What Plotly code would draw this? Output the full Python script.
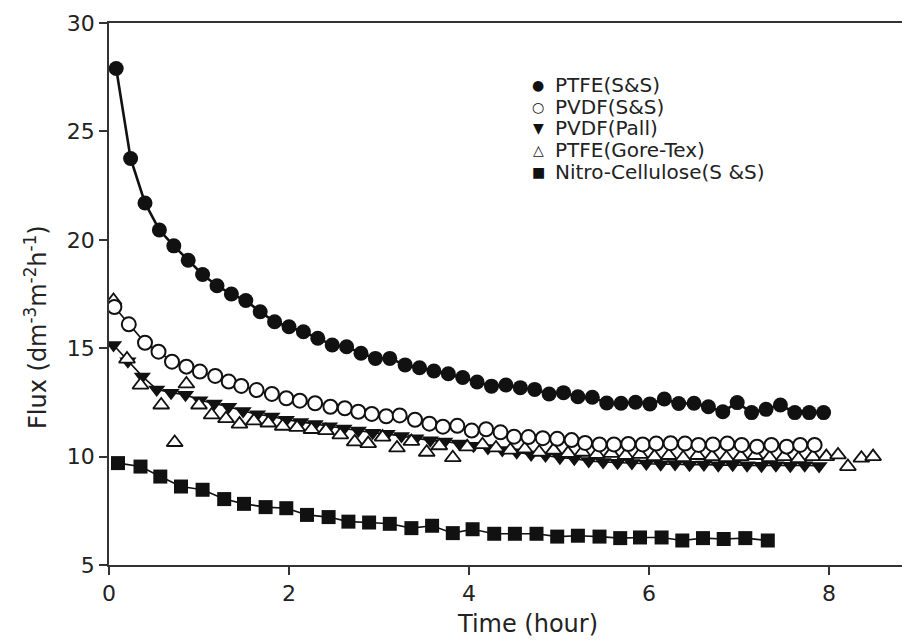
import plotly.graph_objects as go

series_names = ["PTFE(S&S)", "PVDF(S&S)", "PVDF(Pall)", "PTFE(Gore-Tex)", "Nitro-Cellulose(S &S)"]
legend_glyphs = ["\u25CF", "\u25CB", "\u25BC", "\u25B3", "\u25A0"]

ptfe_ss_time = [0.08, 0.24, 0.40, 0.56, 0.72, 0.88, 1.04, 1.20, 1.36, 1.52,
                1.68, 1.84, 2.00, 2.16, 2.32, 2.48, 2.64, 2.80, 2.96, 3.12,
                3.29, 3.45, 3.61, 3.77, 3.93, 4.09, 4.25, 4.41, 4.57, 4.73,
                4.89, 5.05, 5.21, 5.37, 5.53, 5.69, 5.85, 6.01, 6.17, 6.33,
                6.50, 6.66, 6.82, 6.98, 7.14, 7.30, 7.46, 7.62, 7.78, 7.94]
ptfe_ss_flux = [27.9, 23.75, 21.7, 20.45, 19.72, 19.06, 18.4, 17.88, 17.5, 17.2,
                16.68, 16.22, 15.99, 15.76, 15.46, 15.15, 15.07, 14.77, 14.53, 14.53,
                14.23, 14.1, 13.95, 13.82, 13.65, 13.44, 13.25, 13.3, 13.18, 13.1,
                12.89, 12.95, 12.76, 12.74, 12.47, 12.46, 12.51, 12.43, 12.66, 12.45,
                12.46, 12.3, 12.07, 12.49, 12.03, 12.18, 12.38, 12.03, 12.03, 12.03]

pvdf_ss_time = [0.06, 0.22, 0.40, 0.55, 0.70, 0.86, 1.01, 1.18, 1.33, 1.47,
                1.64, 1.81, 1.97, 2.12, 2.29, 2.46, 2.62, 2.77, 2.92, 3.08,
                3.23, 3.40, 3.56, 3.71, 3.87, 4.03, 4.19, 4.35, 4.50, 4.66,
                4.82, 4.98, 5.14, 5.29, 5.45, 5.61, 5.77, 5.93, 6.08, 6.24,
                6.40, 6.55, 6.71, 6.87, 7.03, 7.20, 7.36, 7.53, 7.68, 7.84]
pvdf_ss_flux = [16.9, 16.1, 15.25, 14.84, 14.38, 14.15, 13.92, 13.72, 13.46, 13.26,
                13.07, 12.89, 12.69, 12.58, 12.46, 12.3, 12.23, 12.07, 11.97, 11.86,
                11.9, 11.7, 11.52, 11.38, 11.42, 11.2, 11.26, 11.12, 10.92, 10.9,
                10.85, 10.82, 10.76, 10.63, 10.56, 10.56, 10.58, 10.56, 10.6, 10.62,
                10.6, 10.54, 10.56, 10.6, 10.54, 10.46, 10.54, 10.46, 10.54, 10.54]

pvdf_pall_time = [0.05, 0.21, 0.37, 0.53, 0.69, 0.85, 1.01, 1.17, 1.33, 1.49,
                  1.65, 1.81, 1.97, 2.13, 2.29, 2.45, 2.61, 2.77, 2.93, 3.09,
                  3.25, 3.41, 3.57, 3.73, 3.89, 4.05, 4.21, 4.37, 4.53, 4.69,
                  4.85, 5.01, 5.17, 5.33, 5.49, 5.65, 5.81, 5.97, 6.13, 6.29,
                  6.45, 6.61, 6.77, 6.93, 7.09, 7.25, 7.41, 7.57, 7.73, 7.89]
pvdf_pall_flux = [15.15, 14.4, 13.7, 13.1, 12.95, 12.85, 12.6, 12.45, 12.3, 12.1,
                  11.95, 11.85, 11.7, 11.6, 11.5, 11.4, 11.3, 11.2, 11.1, 11.05,
                  10.95, 10.85, 10.75, 10.7, 10.6, 10.5, 10.4, 10.3, 10.2, 10.1,
                  10.05, 9.95, 9.9, 9.8, 9.75, 9.72, 9.7, 9.68, 9.65, 9.66,
                  9.62, 9.64, 9.6, 9.62, 9.6, 9.58, 9.6, 9.58, 9.6, 9.57]

goretex_time = [0.05, 0.20, 0.35, 0.58, 0.73, 0.86, 1.00, 1.14, 1.30, 1.45,
                1.61, 1.77, 1.93, 2.09, 2.25, 2.41, 2.57, 2.73, 2.88, 3.04,
                3.20, 3.36, 3.53, 3.67, 3.82, 3.98, 4.15, 4.30, 4.46, 4.62,
                4.78, 4.94, 5.10, 5.26, 5.42, 5.58, 5.74, 5.90, 6.06, 6.22,
                6.38, 6.54, 6.70, 6.86, 7.02, 7.18, 7.34, 7.50, 7.66, 7.82,
                7.97, 8.10, 8.21, 8.36, 8.49]
goretex_flux = [17.2, 14.5, 13.3, 12.38, 10.65, 13.35, 12.38, 11.92, 11.75, 11.5,
                11.65, 11.55, 11.4, 11.35, 11.25, 11.2, 11.0, 10.68, 10.6, 10.9,
                10.4, 10.7, 10.2, 10.5, 9.95, 10.45, 10.55, 10.4, 10.3, 10.35,
                10.2, 10.3, 10.15, 10.2, 10.1, 10.15, 10.05, 10.1, 10.0, 10.05,
                9.95, 10.05, 10.0, 9.95, 10.0, 10.05, 9.95, 10.0, 9.9, 10.0,
                10.0, 10.08, 9.54, 9.93, 10.0]

nitro_time = [0.10, 0.35, 0.57, 0.80, 1.04, 1.28, 1.50, 1.74, 1.97, 2.20,
              2.44, 2.66, 2.89, 3.12, 3.36, 3.59, 3.82, 4.04, 4.28, 4.51,
              4.75, 4.98, 5.21, 5.45, 5.68, 5.90, 6.14, 6.37, 6.60, 6.83,
              7.07, 7.32]
nitro_flux = [9.7, 9.54, 9.08, 8.62, 8.47, 8.04, 7.82, 7.67, 7.62, 7.31,
              7.21, 7.0, 6.96, 6.9, 6.7, 6.81, 6.47, 6.65, 6.44, 6.44,
              6.44, 6.31, 6.35, 6.31, 6.24, 6.27, 6.27, 6.13, 6.24, 6.2,
              6.24, 6.13]

FONT = "DejaVu Sans"
INK = "#111111"
TXT = "#222222"

fig = go.Figure()

# nitro first so the upper curves sit on top of it
fig.add_trace(go.Scatter(x=nitro_time, y=nitro_flux, mode="lines+markers", name=series_names[4],
                         line=dict(color=INK, width=1.6),
                         marker=dict(symbol="square", size=14, color=INK)))
fig.add_trace(go.Scatter(x=pvdf_pall_time, y=pvdf_pall_flux, mode="lines+markers", name=series_names[2],
                         line=dict(color=INK, width=1.6),
                         marker=dict(symbol="triangle-down", size=15, color=INK)))
# gore-tex points are plotted without a connecting line
fig.add_trace(go.Scatter(x=goretex_time, y=goretex_flux, mode="markers", name=series_names[3],
                         marker=dict(symbol="triangle-up", size=14, color="white",
                                     line=dict(color=INK, width=1.8))))
fig.add_trace(go.Scatter(x=pvdf_ss_time, y=pvdf_ss_flux, mode="lines+markers", name=series_names[1],
                         line=dict(color=INK, width=1.6),
                         marker=dict(symbol="circle", size=14, color="white",
                                     line=dict(color=INK, width=2))))
fig.add_trace(go.Scatter(x=ptfe_ss_time, y=ptfe_ss_flux, mode="lines+markers", name=series_names[0],
                         line=dict(color=INK, width=2.6),
                         marker=dict(symbol="circle", size=15, color=INK)))

# the page body has an 8px margin, so the figure is shrunk by that much
W, H, PAGE_OFF = 910 - 8, 644 - 8, 8
plot_top, plot_bottom, plot_left, plot_w = 23, 565, 109, 801   # page pixels
plot_h = plot_bottom - plot_top


def px_x(px):
    return (px - plot_left) / plot_w


def px_y(py):
    return (plot_bottom - py) / plot_h


# legend drawn as text rows so the row spacing matches the original
legend_rows_px = [85, 107, 128, 150, 172]
annotations = []
for glyph, name, py in zip(legend_glyphs, series_names, legend_rows_px):
    annotations.append(dict(x=px_x(538), y=px_y(py), xref="paper", yref="paper",
                            text=glyph, showarrow=False, xanchor="center", yanchor="middle",
                            font=dict(family="DejaVu Sans", size=14, color=INK)))
    annotations.append(dict(x=px_x(553), y=px_y(py), xref="paper", yref="paper",
                            text=name, showarrow=False, xanchor="left", yanchor="middle",
                            font=dict(family=FONT, size=20, color=TXT)))

annotations.append(dict(x=px_x(527), y=px_y(624), xref="paper", yref="paper",
                        text="Time (hour)", showarrow=False, xanchor="center", yanchor="middle",
                        font=dict(family=FONT, size=24, color=TXT)))
annotations.append(dict(x=px_x(36), y=px_y(327), xref="paper", yref="paper",
                        text="Flux (dm<sup>-3</sup>m<sup>-2</sup>h<sup>-1</sup>)",
                        showarrow=False, textangle=-90, xanchor="center", yanchor="middle",
                        font=dict(family=FONT, size=24, color=TXT)))

axis_style = dict(showline=True, linecolor="#333333", linewidth=1.6, ticks="outside",
                  ticklen=8, tickwidth=1.5, tickcolor="#333333", showgrid=False, zeroline=False,
                  tickfont=dict(family=FONT, size=22, color=TXT))

fig.update_layout(
    width=W, height=H,
    margin=dict(l=plot_left - PAGE_OFF, r=0, t=plot_top - PAGE_OFF, b=H - (plot_bottom - PAGE_OFF)),
    paper_bgcolor="white", plot_bgcolor="white",
    showlegend=False,
    annotations=annotations,
    xaxis=dict(range=[0, 8.9], dtick=2, tick0=0, mirror=True, **axis_style),
    yaxis=dict(range=[5, 30], dtick=5, tick0=5, **axis_style),
)

fig.write_html("out.html")
